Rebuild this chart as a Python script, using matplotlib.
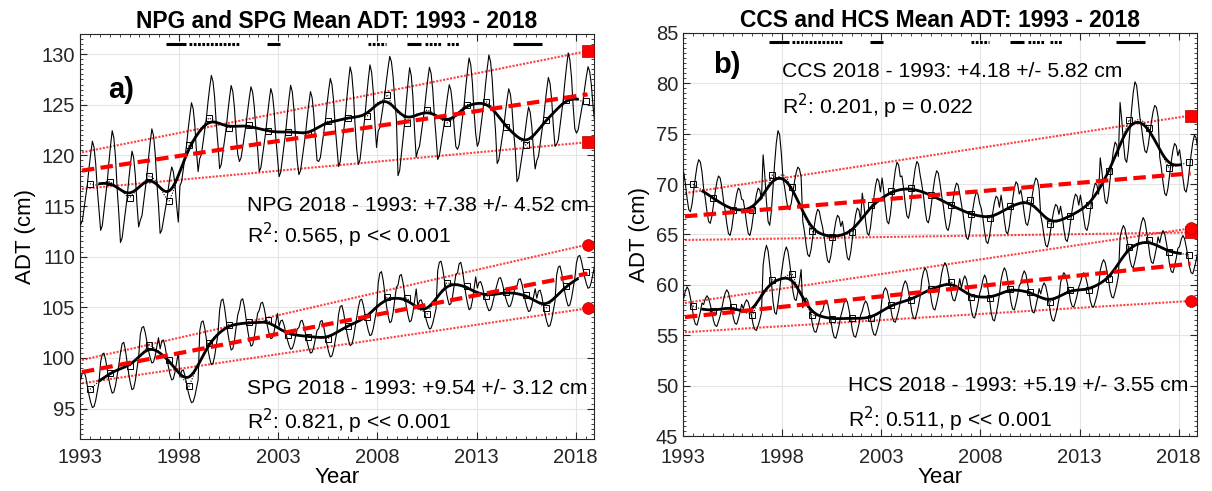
import numpy as np
import matplotlib.pyplot as plt
from matplotlib.ticker import MultipleLocator

plt.rcParams['font.family'] = ['Liberation Sans', 'DejaVu Sans']

years = np.arange(1993, 2019)

# annual mean ADT (cm)
npg_annual = [117.2, 117.4, 115.8, 118.0, 115.5, 121.0, 123.7, 122.7, 123.0, 122.4,
              122.3, 122.1, 123.4, 123.7, 123.9, 126.0, 123.2, 124.5, 123.2, 125.0,
              125.3, 122.8, 121.0, 123.5, 125.5, 125.4]
spg_annual = [96.9, 98.5, 99.2, 101.3, 99.8, 97.2, 101.5, 103.3, 103.5, 103.7,
              102.3, 102.1, 101.9, 103.2, 104.0, 106.0, 105.9, 104.3, 107.4, 107.1,
              106.1, 106.5, 106.2, 104.9, 107.1, 108.5]
ccs_annual = [70.0, 68.6, 67.4, 67.4, 70.9, 69.7, 65.3, 64.7, 65.2, 67.9,
              69.3, 69.6, 68.9, 67.9, 67.0, 66.6, 67.8, 68.4, 66.0, 66.8,
              67.9, 71.3, 76.4, 75.6, 71.6, 72.2]
hcs_annual = [57.9, 57.4, 57.8, 57.0, 60.5, 61.1, 57.0, 56.6, 56.7, 56.7,
              58.0, 58.5, 59.6, 60.3, 58.8, 58.7, 59.6, 59.3, 58.3, 59.5,
              59.5, 60.6, 63.8, 64.4, 63.3, 63.0]

# mean seasonal cycle, Jan..Dec (cm)
npg_season = [-4.0, -3.6, -2.4, -1.2, 0.0, 1.6, 3.0, 4.2, 3.6, 2.0, -0.6, -2.6]
spg_season = [1.0, 1.7, 1.8, 1.2, 0.3, -0.6, -1.3, -1.8, -1.7, -1.1, -0.2, 0.7]
ccs_season = [1.0, 0.0, -1.3, -2.3, -2.5, -1.8, -0.6, 0.6, 1.6, 2.2, 2.0, 1.1]
hcs_season = [0.8, 1.5, 1.9, 1.6, 0.8, -0.1, -1.2, -1.8, -1.9, -1.3, -0.6, 0.3]

# year-to-year strength of the seasonal cycle
npg_amp = [1.0, 1.2, 1.1, 1.1, 0.8, 1.0, 1.0, 1.0, 0.9, 1.0, 1.1, 1.0, 1.0,
           1.2, 1.2, 0.9, 1.3, 1.0, 0.9, 1.1, 1.1, 0.9, 0.9, 1.0, 1.1, 0.8]
spg_amp = [1.0, 1.1, 1.3, 1.0, 1.1, 0.9, 1.2, 1.4, 1.3, 1.0, 0.8, 0.9, 1.0,
           1.1, 1.0, 1.4, 1.3, 0.8, 1.2, 1.3, 0.8, 0.8, 0.9, 1.0, 1.1, 0.9]
ccs_amp = [1.1, 1.0, 1.0, 1.0, 2.0, 0.9, 1.0, 1.0, 1.1, 1.2, 1.3, 1.2, 1.1,
           1.0, 1.0, 1.0, 1.1, 1.0, 0.9, 1.0, 1.0, 1.3, 1.7, 1.0, 1.1, 1.2]
hcs_amp = [1.0, 0.8, 0.9, 0.8, 1.8, 1.4, 0.9, 1.0, 1.0, 0.9, 0.9, 1.0, 1.1,
           1.0, 1.1, 1.2, 1.1, 1.1, 1.0, 0.9, 0.9, 1.0, 1.1, 1.2, 1.1, 1.0]

# linear trend: value at 1993 and change 2018 - 1993
trend_start = {'NPG': 118.5, 'SPG': 98.6, 'CCS': 66.8, 'HCS': 56.8}
trend_change = {'NPG': 7.38, 'SPG': 9.54, 'CCS': 4.18, 'HCS': 5.19}
trend_err = {'NPG': 4.52, 'SPG': 3.12, 'CCS': 5.82, 'HCS': 3.55}
r2 = {'NPG': '0.565', 'SPG': '0.821', 'CCS': '0.201', 'HCS': '0.511'}
pval = {'NPG': 'p << 0.001', 'SPG': 'p << 0.001', 'CCS': 'p = 0.022', 'HCS': 'p << 0.001'}
# bounding lines [start, end]
ci_upper = {'NPG': [120.3, 130.3], 'SPG': [99.8, 111.2], 'CCS': [69.1, 76.8], 'HCS': [58.2, 65.6]}
ci_lower = {'NPG': [116.7, 121.3], 'SPG': [97.5, 104.9], 'CCS': [64.45, 65.2], 'HCS': [55.3, 58.4]}
end_marker = {'NPG': 's', 'SPG': 'o', 'CCS': 's', 'HCS': 'o'}

# ENSO events
el_nino = [(1997.35, 1998.35), (2002.45, 2003.1), (2009.5, 2010.2), (2014.85, 2016.3)]
la_nina = [(1998.5, 2001.05), (2007.55, 2008.45), (2010.4, 2011.2), (2011.5, 2012.1)]

t_month = np.repeat(years, 12) + (np.tile(np.arange(12), len(years)) + 0.5) / 12


def monthly(annual, season, amp):
    return np.repeat(annual, 12) + np.repeat(amp, 12) * np.tile(season, len(annual))


def gauss_smooth(t, y, sigma):
    w = np.exp(-0.5 * ((t[:, None] - t[None, :]) / sigma) ** 2)
    return (w @ y) / w.sum(axis=1)


def draw_series(ax, name, annual, season, amp):
    m = monthly(np.array(annual), np.array(season), np.array(amp))
    ax.plot(t_month, m, color='k', lw=0.8, zorder=3)
    run = np.convolve(m, np.ones(12) / 12, mode='valid')
    t_run = t_month[:len(run)] + 5.5 / 12
    ax.plot(t_run, run, color='k', lw=0.8, ls=(0, (1, 1.5)), zorder=4)
    ax.plot(years + 0.5, annual, ls='none', marker='s', ms=5, mfc='none',
            mec='k', mew=0.7, zorder=5)
    sm = gauss_smooth(t_run, run, 0.33)
    keep = (t_run >= 1994.0) & (t_run <= 2018.1)
    ax.plot(t_run[keep], sm[keep], color='k', lw=2.0, zorder=6)

    tx = np.array([1993.1, 2018.6])
    slope = trend_change[name] / 25.0
    ax.plot(tx, trend_start[name] + slope * (tx - 1993.1), color='r', lw=3,
            ls=(0, (3, 1.5)), zorder=7)
    for ci in (ci_upper[name], ci_lower[name]):
        ax.plot(tx, ci, color='r', lw=1.5, ls=(0, (1, 0.7)), alpha=0.75, zorder=2)
        ax.plot(tx[1], ci[1], marker=end_marker[name], color='r', ms=8.5,
                mec='#b00000', mew=0.5, zorder=8, clip_on=False)


def style_axes(ax, ylim, ymajor, xpad):
    ax.set_xlim(1993, 2018.92)
    ax.set_ylim(*ylim)
    ax.set_xticks(np.arange(1993, 2019, 5))
    ax.xaxis.set_minor_locator(MultipleLocator(0.5))
    ax.yaxis.set_major_locator(MultipleLocator(ymajor))
    ax.yaxis.set_minor_locator(MultipleLocator(0.5))
    ax.tick_params(which='both', direction='in', top=True, right=True,
                   colors='#262626', labelsize=14.5)
    ax.tick_params(axis='x', which='major', pad=xpad)
    ax.tick_params(which='major', length=5, width=0.8)
    ax.tick_params(which='minor', length=2.5, width=0.6)
    ax.grid(True, which='major', color='#e4e4e4', lw=0.8, zorder=0)
    ax.set_axisbelow(True)
    for sp in ax.spines.values():
        sp.set_color('#262626')
        sp.set_linewidth(0.8)
    ax.set_xlabel('Year', fontsize=16, labelpad=0)
    ax.set_ylabel('ADT (cm)', fontsize=16, labelpad=4)


def draw_enso(ax, ybar):
    for a, b in el_nino:
        ax.plot([a, b], [ybar, ybar], color='k', lw=2.2, solid_capstyle='butt', zorder=9)
    for a, b in la_nina:
        ax.plot([a, b], [ybar, ybar], color='k', lw=2.2, ls=(0, (0.9, 0.5)), zorder=9)


def stat_text(ax, name, x, y1, y2):
    ax.text(x, y1, f"{name} 2018 - 1993: +{trend_change[name]:.2f} +/- {trend_err[name]:.2f} cm",
            fontsize=15.2, va='center', ha='left', zorder=10)
    ax.text(x, y2, f"R$^2$: {r2[name]}, {pval[name]}", fontsize=15.2, va='center',
            ha='left', zorder=10)


fig = plt.figure(figsize=(12.12, 4.91), dpi=100)
ax1 = fig.add_axes([0.066, 0.106, 0.424, 0.825])
ax2 = fig.add_axes([0.5635, 0.112, 0.4241, 0.821])

draw_series(ax1, 'NPG', npg_annual, npg_season, npg_amp)
draw_series(ax1, 'SPG', spg_annual, spg_season, spg_amp)
style_axes(ax1, (92.0, 132.0), 5, 6.5)
draw_enso(ax1, 131.0)
ax1.set_title('NPG and SPG Mean ADT: 1993 - 2018', fontsize=16.5, fontweight='bold', pad=4)
ax1.text(1994.4, 126.5, 'a)', fontsize=21, fontweight='bold', va='center', ha='left')
stat_text(ax1, 'NPG', 2001.4, 115.1, 112.1)
stat_text(ax1, 'SPG', 2001.4, 97.0, 93.75)

draw_series(ax2, 'CCS', ccs_annual, ccs_season, ccs_amp)
draw_series(ax2, 'HCS', hcs_annual, hcs_season, hcs_amp)
style_axes(ax2, (45, 85), 5, 8.5)
draw_enso(ax2, 84.1)
ax2.set_title('CCS and HCS Mean ADT: 1993 - 2018', fontsize=16.5, fontweight='bold', pad=4)
ax2.text(1994.5, 81.8, 'b)', fontsize=21, fontweight='bold', va='center', ha='left')
stat_text(ax2, 'CCS', 1998.0, 81.2, 77.75)
stat_text(ax2, 'HCS', 2001.3, 50.06, 46.6)

fig.savefig('out.png', dpi=100)
